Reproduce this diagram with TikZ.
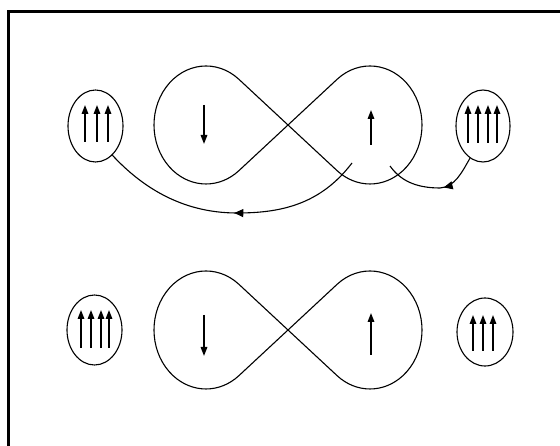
\documentclass[tikz,border=0pt]{standalone}
\usetikzlibrary{arrows.meta,shapes.geometric,decorations.markings}
\begin{document}
\begin{tikzpicture}[x=1pt,y=-1pt,
  curve/.style={line width=1.1pt},
  spin/.style={line width=1.6pt,-{Triangle[length=9pt,width=6.5pt]}},
  cloud/.style={draw,ellipse,line width=1.1pt,inner sep=0pt,minimum width=55pt,minimum height=72pt},
  midarrow/.style={postaction={decorate,decoration={markings,mark=at position #1 with {\arrow{Triangle[length=9pt,width=8pt]}}}}},
  eight/.pic={
    \draw[curve, line join=round] (0,0) -- (-49,-45.6)
      arc[start angle=50.6, end angle=309.4, x radius=52pt, y radius=59pt] -- (0,0)
      -- (49,-45.6)
      arc[start angle=129.4, end angle=-129.4, x radius=52pt, y radius=59pt] -- cycle;
  }
]
\useasboundingbox (0,0) rectangle (560,446);
\draw[line width=3pt] (8.5,446) -- (8.5,11.5) -- (560,11.5);

% figure eights
\pic at (288,125) {eight};
\pic at (288,330) {eight};

% spins in lobes
\draw[spin] (204,105) -- (204,144);
\draw[spin] (371,145) -- (371,110);
\draw[spin] (204,315) -- (204,356);
\draw[spin] (371,355) -- (371,313);

% clouds
\node[cloud] (tl) at (95.5,126) {};
\node[cloud, minimum width=54pt] (tr) at (483,126) {};
\node[cloud, minimum height=70pt] (bl) at (94.5,330) {};
\node[cloud, minimum width=56pt, minimum height=68pt] (br) at (485,332) {};

% spins in clouds
\foreach \x in {85,97,108} \draw[spin] (\x,142) -- (\x,105);
\foreach \x in {468,478,488,497} \draw[spin] (\x,143) -- (\x,105);
\foreach \x in {81,91,101,109} \draw[spin] (\x,348) -- (\x,310);
\foreach \x in {473,483,493} \draw[spin] (\x,351) -- (\x,315);

% connectors
\coordinate (s1) at (352,163);
\coordinate (s2) at (390,166);
\draw[curve, midarrow=0.49] (s1) .. controls (320,205) and (280,213) .. (237,213)
  .. controls (180,213) and (140,185) .. (tl.-60);
\draw[curve, midarrow=0.4] (tr.-112) .. controls (462,172) and (455,187) .. (440,188)
  .. controls (415,188) and (400,180) .. (s2);
\end{tikzpicture}
\end{document}
